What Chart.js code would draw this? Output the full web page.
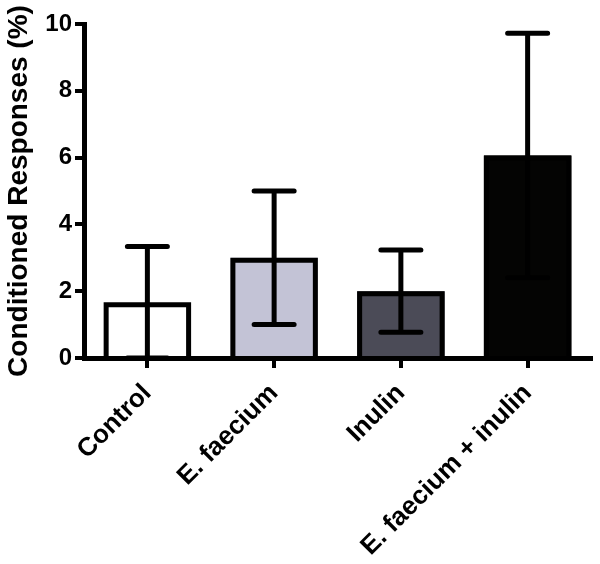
<!DOCTYPE html>
<html>
<head>
<meta charset="utf-8">
<script src="https://cdn.jsdelivr.net/npm/chart.js@4.4.0/dist/chart.umd.min.js"></script>
<style>
html,body{margin:0;padding:0;background:#fff;}
canvas{display:block;}
</style>
</head>
<body>
<canvas id="c" width="600" height="564"></canvas>
<script>
const categories = ["Control", "E. faecium", "Inulin", "E. faecium + inulin"];
const means = [1.67, 3.0, 2.0, 6.06];
const errors = [1.67, 2.0, 1.23, 3.66];
const yTicks = [0, 2, 4, 6, 8, 10];
const fills = ["#ffffff", "#c3c3d6", "#4b4b57", "#040403"];

const FONT = '"Liberation Sans", Arial, sans-serif';
const LW = 5;

const barOutlines = {
  id: 'barOutlines',
  afterDatasetsDraw(chart) {
    const ctx = chart.ctx;
    const meta = chart.getDatasetMeta(0);
    ctx.save();
    ctx.strokeStyle = '#000';
    ctx.lineWidth = LW;
    ctx.lineJoin = 'miter';
    ctx.lineCap = 'butt';
    meta.data.forEach((bar) => {
      const p = bar.getProps(['x', 'y', 'base', 'width'], true);
      const l = p.x - p.width / 2 + LW / 2;
      const r = p.x + p.width / 2 - LW / 2;
      const t = p.y + LW / 2;
      ctx.beginPath();
      ctx.moveTo(l, p.base);
      ctx.lineTo(l, t);
      ctx.lineTo(r, t);
      ctx.lineTo(r, p.base);
      ctx.stroke();
    });
    ctx.restore();
  }
};

const errorBars = {
  id: 'errorBars',
  afterDatasetsDraw(chart) {
    const ctx = chart.ctx;
    const meta = chart.getDatasetMeta(0);
    const y = chart.scales.y;
    ctx.save();
    ctx.strokeStyle = '#000';
    ctx.lineWidth = LW;
    meta.data.forEach((bar, i) => {
      const x = bar.x;
      const top = y.getPixelForValue(means[i] + errors[i]);
      const bot = y.getPixelForValue(means[i] - errors[i]);
      ctx.lineCap = 'butt';
      ctx.beginPath();
      ctx.moveTo(x, bot);
      ctx.lineTo(x, top);
      ctx.stroke();
      ctx.lineCap = 'round';
      ctx.beginPath();
      ctx.moveTo(x - 20, top); ctx.lineTo(x + 20, top);
      ctx.moveTo(x - 20, bot); ctx.lineTo(x + 20, bot);
      ctx.stroke();
    });
    ctx.restore();
  }
};

new Chart(document.getElementById('c'), {
  type: 'bar',
  data: {
    labels: categories,
    datasets: [{
      data: means,
      backgroundColor: fills,
      borderWidth: 0,
      inflateAmount: 0,
      categoryPercentage: 1.0,
      barPercentage: 0.69
    }]
  },
  options: {
    responsive: false,
    animation: false,
    devicePixelRatio: 1,
    layout: { padding: { top: 24, right: 9, left: 0, bottom: 0 } },
    plugins: { legend: { display: false }, tooltip: { enabled: false } },
    scales: {
      x: {
        z: 1,
        offset: true,
        afterFit: (s) => { s.height = 206; },
        grid: { display: true, drawOnChartArea: false, drawTicks: true, offset: false, tickLength: 10, lineWidth: 4, color: '#000' },
        border: { display: true, color: '#000', width: 5 },
        ticks: {
          color: '#000',
          font: { family: FONT, size: 26, weight: 'bold' },
          minRotation: 45, maxRotation: 45, autoSkip: false, padding: 10
        }
      },
      y: {
        z: 1,
        min: 0, max: 10,
        afterFit: (s) => { s.width = 84; },
        afterBuildTicks: (s) => { s.ticks = yTicks.map(v => ({ value: v })); },
        grid: { display: true, drawOnChartArea: false, drawTicks: true, tickLength: 9, lineWidth: 4, color: '#000' },
        border: { display: true, color: '#000', width: 5 },
        ticks: {
          color: '#000',
          font: { family: FONT, size: 24, weight: 'bold' },
          padding: 3
        },
        title: {
          display: true,
          text: 'Conditioned Responses (%)',
          color: '#000',
          font: { family: FONT, size: 28, weight: 'bold' },
          padding: { top: 2, bottom: 0 }
        }
      }
    }
  },
  plugins: [barOutlines, errorBars]
});
</script>
</body>
</html>
